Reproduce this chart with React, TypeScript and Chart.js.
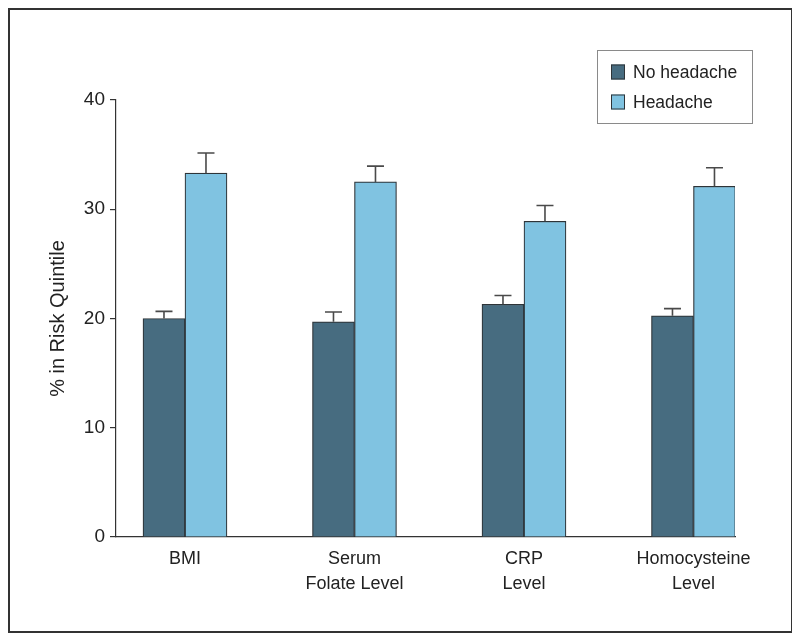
import React, { useEffect, useRef } from "react";
import { Chart, registerables } from "chart.js";

Chart.register(...registerables);

const categoryLines: string[][] = [
  ["BMI"],
  ["Serum", "Folate Level"],
  ["CRP", "Level"],
  ["Homocysteine", "Level"],
];
const seriesNames = ["No headache", "Headache"];
const noHeadache = [20.0, 19.7, 21.3, 20.25];
const noHeadacheErr = [0.65, 0.9, 0.8, 0.65];
const headache = [33.3, 32.5, 28.9, 32.1];
const headacheErr = [1.85, 1.45, 1.45, 1.7];
const yTickValues = [0, 10, 20, 30, 40];
const yTitle = "% in Risk Quintile";

const DARK = "#476c80";
const LIGHT = "#80c3e1";
const EDGE = "#2e3438";
const TEXT = "#222222";
const FONT = "'Liberation Sans', Arial, sans-serif";

const errors = [noHeadacheErr, headacheErr];

const errorBarPlugin = {
  id: "errorBars",
  afterDatasetsDraw(chart: any) {
    const ctx = chart.ctx;
    const yScale = chart.scales.y;
    ctx.save();
    ctx.strokeStyle = "#4a4a4a";
    ctx.lineWidth = 1.6;
    chart.data.datasets.forEach((ds: any, di: number) => {
      const meta = chart.getDatasetMeta(di);
      meta.data.forEach((bar: any, i: number) => {
        const v = ds.data[i].y;
        const top = yScale.getPixelForValue(v + errors[di][i]);
        ctx.beginPath();
        ctx.moveTo(bar.x, bar.y);
        ctx.lineTo(bar.x, top);
        ctx.moveTo(bar.x - 8.5, top);
        ctx.lineTo(bar.x + 8.5, top);
        ctx.stroke();
      });
    });
    ctx.restore();
  },
};

const legendPlugin = {
  id: "boxLegend",
  afterDraw(chart: any) {
    const ctx = chart.ctx;
    const area = chart.chartArea;
    const bx = area.right - 138;
    const by = area.top - 50;
    ctx.save();
    ctx.strokeStyle = "#8a8a8a";
    ctx.lineWidth = 1;
    ctx.strokeRect(bx + 0.5, by + 0.5, 155, 73);
    chart.data.datasets.forEach((ds: any, i: number) => {
      const rowY = by + 22 + i * 30;
      ctx.fillStyle = ds.backgroundColor;
      ctx.fillRect(bx + 14, rowY - 7.5, 14, 15);
      ctx.strokeStyle = EDGE;
      ctx.strokeRect(bx + 14.5, rowY - 7, 13, 14);
      ctx.fillStyle = TEXT;
      ctx.font = `17.5px ${FONT}`;
      ctx.textBaseline = "middle";
      ctx.textAlign = "left";
      ctx.fillText(ds.label, bx + 36, rowY + 1);
    });
    ctx.restore();
  },
};

export default function App() {
  const ref = useRef<HTMLCanvasElement | null>(null);

  useEffect(() => {
    if (!ref.current) return;
    const toPoints = (arr: number[]) => arr.map((y, x) => ({ x, y }));
    const chart = new Chart(ref.current, {
      type: "bar",
      data: {
        datasets: [
          {
            label: seriesNames[0],
            data: toPoints(noHeadache),
            backgroundColor: DARK,
            borderColor: EDGE,
            borderWidth: 1.2,
          },
          {
            label: seriesNames[1],
            data: toPoints(headache),
            backgroundColor: LIGHT,
            borderColor: EDGE,
            borderWidth: 1.2,
          },
        ] as any,
      },
      options: {
        animation: false,
        responsive: false,
        devicePixelRatio: 1,
        barThickness: 42,
        grouped: true,
        layout: { padding: { left: 0, right: 56, top: 90, bottom: 0 } },
        plugins: {
          legend: { display: false },
          tooltip: { enabled: false },
        },
        scales: {
          x: {
            type: "linear",
            offset: false,
            min: -0.407,
            max: 3.245,
            grid: { display: false, drawTicks: false, tickLength: 0 },
            border: { display: true, color: "#333", width: 1.2 },
            afterFit: (s: any) => {
              s.height = 94;
            },
            afterBuildTicks: (s: any) => {
              s.ticks = categoryLines.map((_, i) => ({ value: i }));
            },
            ticks: {
              autoSkip: false,
              maxRotation: 0,
              padding: 10,
              color: TEXT,
              font: { family: FONT, size: 18, lineHeight: 1.39 },
              callback: (v: any) => categoryLines[Number(v)],
            },
          },
          y: {
            min: 0,
            max: 40,
            afterFit: (s: any) => {
              s.width = 106;
            },
            afterBuildTicks: (s: any) => {
              s.ticks = yTickValues.map((v) => ({ value: v }));
            },
            grid: {
              display: true,
              drawOnChartArea: false,
              drawTicks: true,
              tickLength: 6,
              color: "#333",
              lineWidth: 1.2,
            },
            border: { display: true, color: "#333", width: 1.2 },
            ticks: {
              padding: 5,
              color: TEXT,
              font: { family: FONT, size: 19 },
            },
            title: {
              display: true,
              text: yTitle,
              color: TEXT,
              padding: { top: 36, bottom: 0 },
              font: { family: FONT, size: 20 },
            },
          },
        },
      } as any,
      plugins: [errorBarPlugin, legendPlugin],
    });
    return () => chart.destroy();
  }, []);

  return (
    <div
      style={{
        position: "relative",
        width: 785,
        height: 625,
        border: "2px solid #333",
        boxSizing: "border-box",
        background: "#fff",
      }}
    >
      <canvas ref={ref} width={781} height={621} style={{ display: "block" }} />
    </div>
  );
}
